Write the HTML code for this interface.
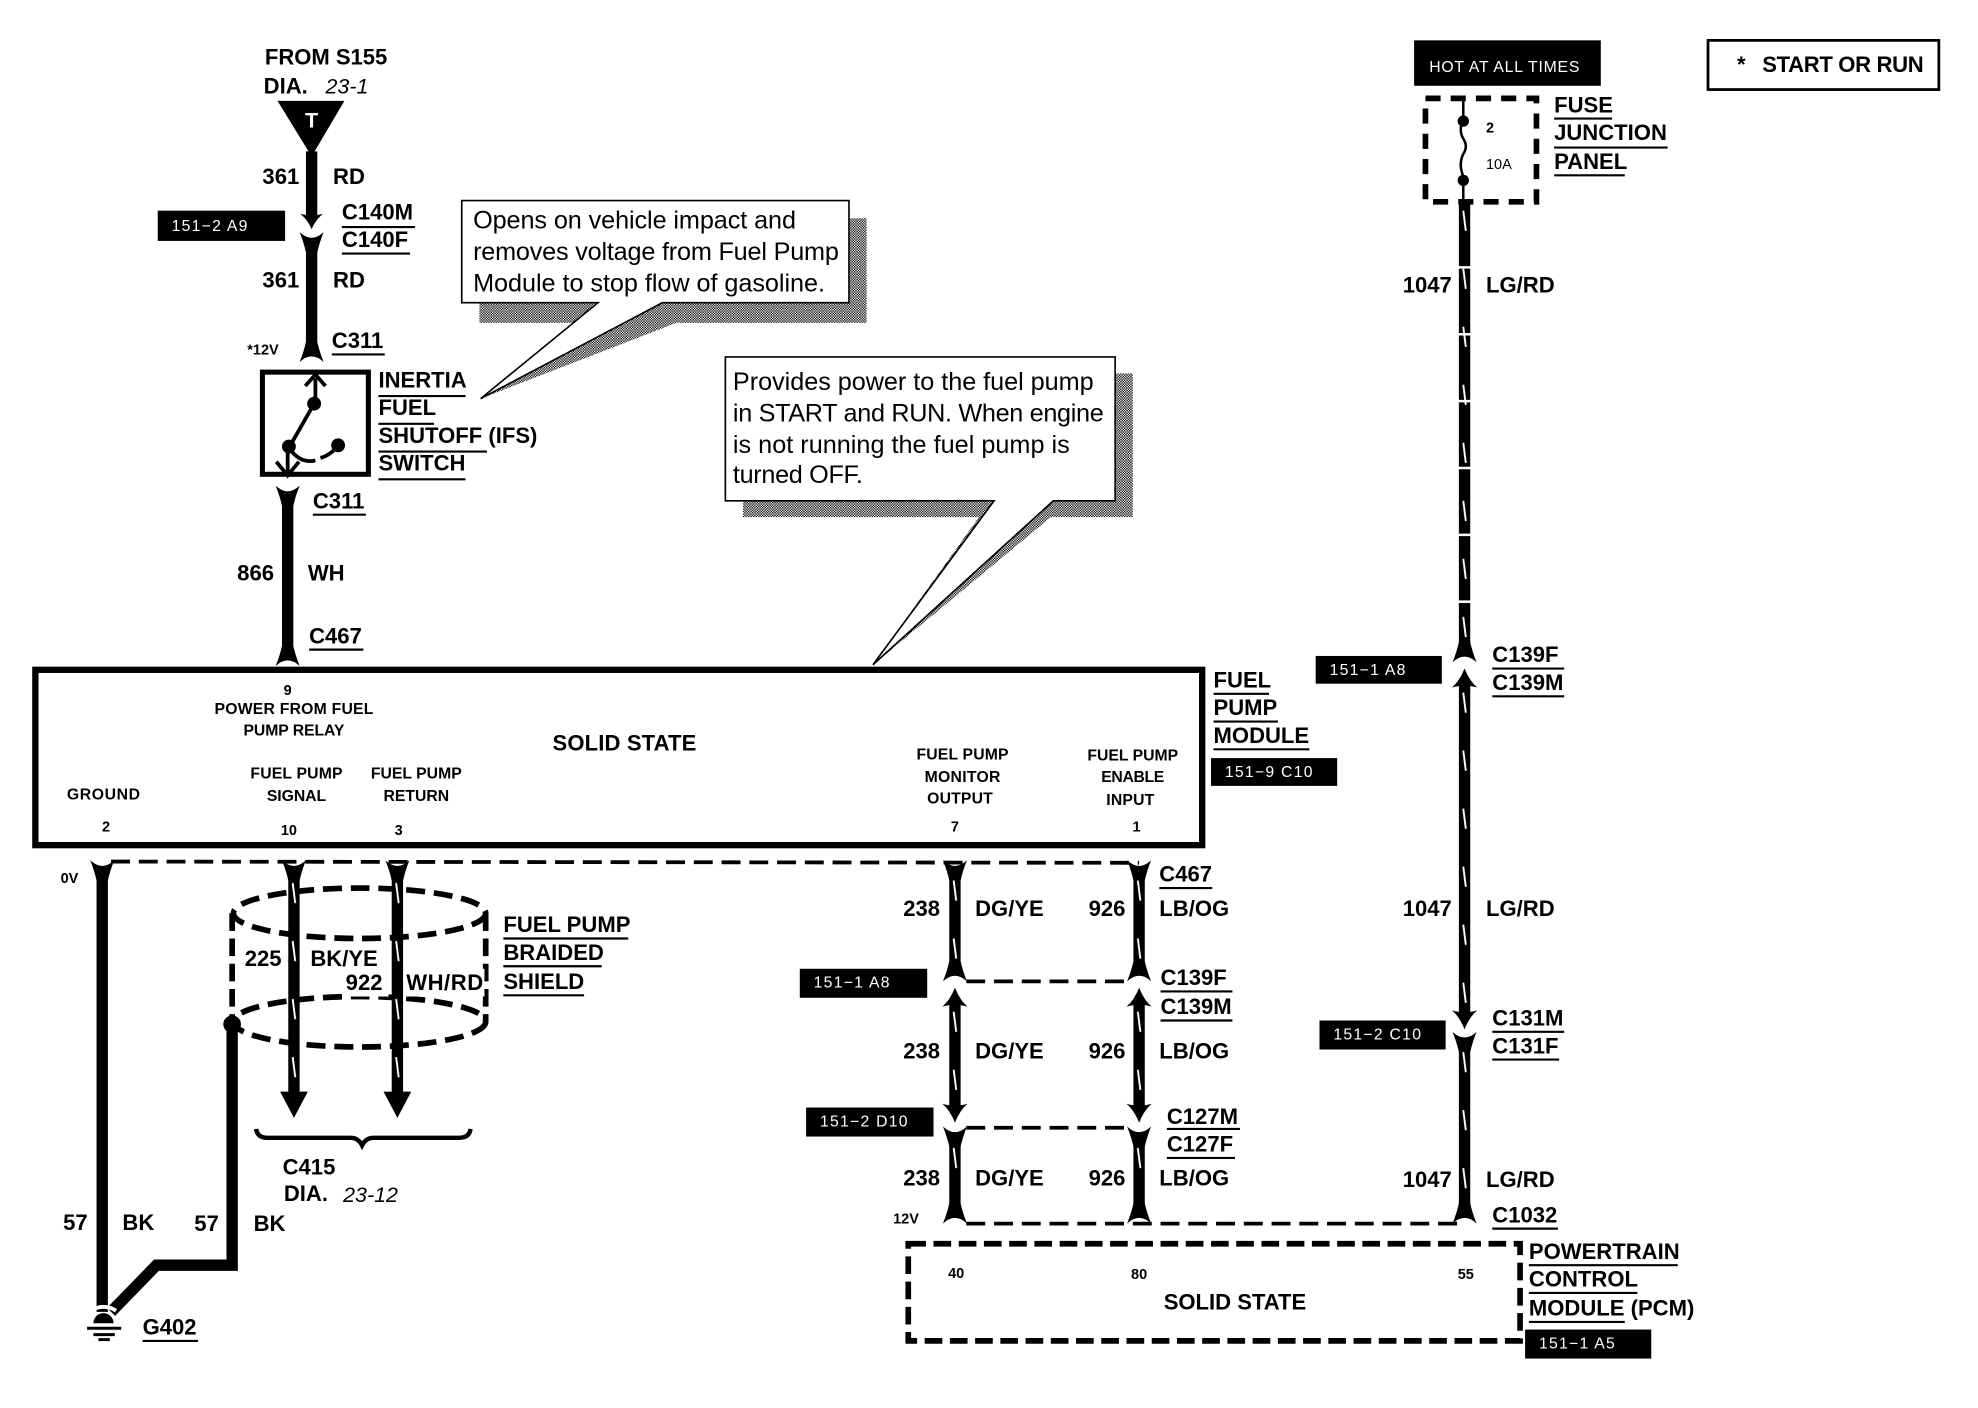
<!DOCTYPE html>
<html><head><meta charset="utf-8"><title>Fuel pump wiring diagram</title>
<style>
html,body{margin:0;padding:0;background:#fff}
svg{display:block}
text{font-family:"Liberation Sans",Arial,sans-serif;fill:#000}
.b{font-weight:bold;font-size:17.5px}
.m{font-weight:bold;font-size:12.5px}
.c{font-size:20px}
.s{font-weight:bold;font-size:11.5px}
.t{fill:#fff;font-size:12.5px;letter-spacing:1px}
.i{font-style:italic;font-size:17px}
.w{stroke:#000;stroke-width:9;fill:none}
.u{stroke:#000;stroke-width:1.7;fill:none}
.d{stroke:#000;stroke-width:3;fill:none;stroke-dasharray:15 7}
.sd{stroke:#000;stroke-width:4.5;fill:none;stroke-dasharray:14 6}
</style></head><body>
<svg width="1978" height="1408" viewBox="0 0 1568 1116.2" xmlns="http://www.w3.org/2000/svg">
<defs>
<pattern id="dith" width="2" height="2" patternUnits="userSpaceOnUse"><rect width="2" height="2" fill="#fff"/><rect width="1" height="1" fill="#000"/><rect x="1" y="1" width="1" height="1" fill="#000"/></pattern>
<pattern id="tick" width="6" height="46" patternUnits="userSpaceOnUse" x="-3"><line x1="2" y1="4" x2="4" y2="20" stroke="#fff" stroke-width="1.5"/></pattern>
<path id="cup" d="M-9.5-6 Q0 3 9.5-6 Q6 3 4.5 10 L-4.5 10 Q-6 3 -9.5-6Z" fill="#000"/>
<path id="head" d="M-10 3 Q-4-2 0-12 Q4-2 10 3 Q0 0-10 3Z" fill="#000"/>
<path id="tri" d="M-11 2 L11 2 L0 -14 Z" fill="#000"/>
</defs>
<rect width="1568" height="1116.2" fill="#fff"/>

<!-- top-left feed -->
<text class="b" x="210" y="51" textLength="97">FROM S155</text>
<text class="b" x="209" y="74">DIA.</text><text class="i" x="258" y="74">23-1</text>
<polygon points="220,80 273,80 247,124" fill="#000"/>
<text x="247" y="101" text-anchor="middle" font-weight="bold" font-size="17" style="fill:#fff">T</text>
<line class="w" x1="247" y1="120" x2="247" y2="172"/>
<use href="#head" transform="translate(247,172) scale(.9,-.8)"/>
<use href="#cup" transform="translate(247,190)"/>
<line class="w" x1="247" y1="196" x2="247" y2="280"/>
<use href="#cup" transform="translate(247,281) scale(1,-1)"/>
<text class="b" x="208" y="146">361</text><text class="b" x="264" y="146">RD</text>
<rect x="125" y="167" width="101" height="24" fill="#000"/>
<text class="t" x="136" y="183" style="fill:#fff">151−2 A9</text>
<text class="b" x="271" y="174">C140M</text><line class="u" x1="271" y1="180" x2="329" y2="180"/>
<text class="b" x="271" y="196">C140F</text><line class="u" x1="271" y1="201" x2="325" y2="201"/>
<text class="b" x="208" y="228">361</text><text class="b" x="264" y="228">RD</text>
<text class="s" x="196" y="281">*12V</text>
<text class="b" x="263" y="276">C311</text><line class="u" x1="263" y1="281" x2="305" y2="281"/>

<!-- callout 1 -->
<polygon points="380,173 687,173 687,256 536,256 381,316 469,256 380,256" fill="url(#dith)"/>
<polygon points="366,159 673,159 673,240 525,240 381,316 474,240 366,240" fill="#fff" stroke="#000" stroke-width="1.3"/>
<text class="c" x="375" y="181" textLength="256">Opens on vehicle impact and</text>
<text class="c" x="375" y="206" textLength="290">removes voltage from Fuel Pump</text>
<text class="c" x="375" y="231" textLength="279">Module to stop flow of gasoline.</text>

<!-- IFS switch -->
<rect x="208" y="295" width="84" height="81" fill="none" stroke="#000" stroke-width="4"/>
<path d="M250 320V300M242 306 250 297 258 306M249 320 229 355M228 355V376M219 366 228 377 237 366" stroke="#000" stroke-width="3" fill="none"/>
<path d="M229 355 Q238 368 250 365 M254 363 Q262 361 268 353" stroke="#000" stroke-width="3" fill="none"/>
<circle cx="249" cy="320" r="5.5"/><circle cx="229" cy="354" r="5.5"/><circle cx="268" cy="353" r="5.5"/>
<text class="b" x="300" y="307">INERTIA</text><line class="u" x1="300" y1="314" x2="369" y2="314"/>
<text class="b" x="300" y="329">FUEL</text><line class="u" x1="300" y1="336" x2="344" y2="336"/>
<text class="b" x="300" y="351">SHUTOFF (IFS)</text><line class="u" x1="300" y1="358" x2="386" y2="358"/>
<text class="b" x="300" y="373">SWITCH</text><line class="u" x1="300" y1="380" x2="369" y2="380"/>
<use href="#cup" transform="translate(228,391)"/>
<line class="w" x1="228" y1="395" x2="228" y2="522"/>
<use href="#cup" transform="translate(228,522) scale(1,-1)"/>
<text class="b" x="248" y="403">C311</text><line class="u" x1="248" y1="408" x2="290" y2="408"/>
<text class="b" x="188" y="460">866</text><text class="b" x="244" y="460">WH</text>
<text class="b" x="245" y="510">C467</text><line class="u" x1="245" y1="515" x2="288" y2="515"/>

<!-- callout 2 -->
<polygon points="589,296 898,296 898,410 833,410 692,527 776,410 589,410" fill="url(#dith)"/>
<polygon points="575,283 884,283 884,397 835,397 692,527 788,397 575,397" fill="#fff" stroke="#000" stroke-width="1.3"/>
<text class="c" x="581" y="309" textLength="286">Provides power to the fuel pump</text>
<text class="c" x="581" y="334" textLength="294">in START and RUN. When engine</text>
<text class="c" x="581" y="359" textLength="267">is not running the fuel pump is</text>
<text class="c" x="581" y="383" textLength="103">turned OFF.</text>

<!-- fuel pump module -->
<rect x="28" y="531" width="925" height="139" fill="none" stroke="#000" stroke-width="5"/>
<text class="s" x="228" y="551" text-anchor="middle">9</text>
<text class="m" x="233" y="566" text-anchor="middle" textLength="126">POWER FROM FUEL</text>
<text class="m" x="233" y="583" text-anchor="middle" textLength="80">PUMP RELAY</text>
<text class="b" x="495" y="595" text-anchor="middle" textLength="114">SOLID STATE</text>
<text class="m" x="82" y="634" text-anchor="middle" textLength="58">GROUND</text>
<text class="m" x="235" y="617" text-anchor="middle" textLength="73">FUEL PUMP</text>
<text class="m" x="235" y="635" text-anchor="middle" textLength="47">SIGNAL</text>
<text class="m" x="330" y="617" text-anchor="middle" textLength="72">FUEL PUMP</text>
<text class="m" x="330" y="635" text-anchor="middle" textLength="52">RETURN</text>
<text class="m" x="763" y="602" text-anchor="middle" textLength="73">FUEL PUMP</text>
<text class="m" x="763" y="620" text-anchor="middle" textLength="60">MONITOR</text>
<text class="m" x="761" y="637" text-anchor="middle" textLength="52">OUTPUT</text>
<text class="m" x="898" y="603" text-anchor="middle" textLength="72">FUEL PUMP</text>
<text class="m" x="898" y="620" text-anchor="middle" textLength="50">ENABLE</text>
<text class="m" x="896" y="638" text-anchor="middle" textLength="38">INPUT</text>
<text class="s" x="84" y="659" text-anchor="middle">2</text>
<text class="s" x="229" y="662" text-anchor="middle">10</text>
<text class="s" x="316" y="662" text-anchor="middle">3</text>
<text class="s" x="757" y="659" text-anchor="middle">7</text>
<text class="s" x="901" y="659" text-anchor="middle">1</text>
<text class="b" x="962" y="545">FUEL</text><line class="u" x1="962" y1="550" x2="1006" y2="550"/>
<text class="b" x="962" y="567">PUMP</text><line class="u" x1="962" y1="572" x2="1013" y2="572"/>
<text class="b" x="962" y="589">MODULE</text><line class="u" x1="962" y1="594" x2="1038" y2="594"/>
<rect x="960" y="601" width="100" height="22" fill="#000"/>
<text class="t" x="971" y="616" style="fill:#fff">151−9 C10</text>

<!-- lower-left: ground wires and shield -->
<line class="d" x1="88" y1="683" x2="903" y2="684"/>
<use href="#cup" transform="translate(81,688)"/><text class="s" x="48" y="700">0V</text>
<line class="w" x1="81" y1="692" x2="81" y2="1040"/>
<path d="M184 812V1003H124L88 1040" stroke="#000" stroke-width="9" fill="none"/>
<circle cx="184" cy="812" r="7"/>
<ellipse class="d" style="stroke-width:4.5" cx="285" cy="724" rx="100" ry="20"/>
<ellipse class="d" style="stroke-width:4.5" cx="285" cy="810" rx="100" ry="20"/>
<line class="sd" x1="184" y1="724" x2="184" y2="810"/>
<line class="sd" x1="385" y1="724" x2="385" y2="810"/>
<use href="#cup" transform="translate(233,688)"/><use href="#cup" transform="translate(315,688)"/>
<line class="w" x1="233" y1="692" x2="233" y2="870"/>
<rect transform="translate(233,696)" x="-3" width="6" height="170" fill="url(#tick)"/>
<use href="#tri" transform="translate(233,868) scale(1,-1.3)"/>
<line class="w" x1="315" y1="692" x2="315" y2="870"/>
<rect transform="translate(315,696)" x="-3" width="6" height="170" fill="url(#tick)"/>
<use href="#tri" transform="translate(315,868) scale(1,-1.3)"/>
<path d="M203 895Q204 902 212 902H278Q284 902 287 908Q290 902 296 902H364Q372 902 373 895" stroke="#000" stroke-width="3.5" fill="none"/>
<rect x="192" y="748" width="36" height="24" fill="#fff"/><rect x="240" y="748" width="64" height="24" fill="#fff"/><rect x="272" y="770" width="36" height="20" fill="#fff"/><rect x="322" y="768" width="62" height="22" fill="#fff"/>
<text class="b" x="194" y="766">225</text><text class="b" x="246" y="766">BK/YE</text>
<text class="b" x="274" y="785">922</text><text class="b" x="322" y="785" textLength="61">WH/RD</text>
<text class="b" x="399" y="739">FUEL PUMP</text><line class="u" x1="399" y1="744" x2="498" y2="744"/>
<text class="b" x="399" y="761">BRAIDED</text><line class="u" x1="399" y1="766" x2="477" y2="766"/>
<text class="b" x="399" y="784">SHIELD</text><line class="u" x1="399" y1="789" x2="463" y2="789"/>
<text class="b" x="224" y="931">C415</text>
<text class="b" x="225" y="952">DIA.</text><text class="i" x="272" y="953">23-12</text>
<text class="b" x="50" y="975">57</text><text class="b" x="97" y="975">BK</text>
<text class="b" x="154" y="976">57</text><text class="b" x="201" y="976">BK</text>
<path d="M72 1039 Q82 1033 92 1039" stroke="#fff" stroke-width="3" fill="none"/>
<path d="M74 1049A8 8 0 0 1 90 1049Z" fill="#000"/>
<path d="M69 1053H96M74 1058H91M78 1062H87" stroke="#000" stroke-width="2.4"/>
<text class="b" x="113" y="1058">G402</text><line class="u" x1="113" y1="1063" x2="157" y2="1063"/>

<!-- middle wires -->
<use href="#cup" transform="translate(757,688)"/><use href="#cup" transform="translate(903,688)"/>
<g>
<line class="w" x1="757" y1="692" x2="757" y2="770"/><line class="w" x1="903" y1="692" x2="903" y2="770"/>
<rect transform="translate(757,694)" x="-3" width="6" height="76" fill="url(#tick)"/><rect transform="translate(903,694)" x="-3" width="6" height="76" fill="url(#tick)"/>
<use href="#cup" transform="translate(757,772) scale(1,-1)"/><use href="#cup" transform="translate(903,772) scale(1,-1)"/>
<line class="d" x1="766" y1="778" x2="896" y2="778"/>
<line class="w" x1="757" y1="793" x2="757" y2="880"/><line class="w" x1="903" y1="793" x2="903" y2="880"/>
<rect transform="translate(757,798)" x="-3" width="6" height="80" fill="url(#tick)"/><rect transform="translate(903,798)" x="-3" width="6" height="80" fill="url(#tick)"/>
<use href="#head" transform="translate(757,795)"/><use href="#head" transform="translate(903,795)"/>
<use href="#head" transform="translate(757,878) scale(1,-1)"/><use href="#head" transform="translate(903,878) scale(1,-1)"/>
<use href="#cup" transform="translate(757,899)"/><use href="#cup" transform="translate(903,899)"/>
<line class="d" x1="766" y1="894" x2="896" y2="894"/>
<line class="w" x1="757" y1="904" x2="757" y2="964"/><line class="w" x1="903" y1="904" x2="903" y2="964"/>
<rect transform="translate(757,906)" x="-3" width="6" height="56" fill="url(#tick)"/><rect transform="translate(903,906)" x="-3" width="6" height="56" fill="url(#tick)"/>
<use href="#cup" transform="translate(757,964) scale(1,-1)"/><use href="#cup" transform="translate(903,964) scale(1,-1)"/>
</g>
<line class="d" x1="766" y1="970" x2="1155" y2="970"/>
<text class="b" x="716" y="726">238</text><text class="b" x="773" y="726">DG/YE</text><text class="b" x="863" y="726">926</text><text class="b" x="919" y="726">LB/OG</text>
<text class="b" x="716" y="839">238</text><text class="b" x="773" y="839">DG/YE</text><text class="b" x="863" y="839">926</text><text class="b" x="919" y="839">LB/OG</text>
<text class="b" x="716" y="940">238</text><text class="b" x="773" y="940">DG/YE</text><text class="b" x="863" y="940">926</text><text class="b" x="919" y="940">LB/OG</text>
<text class="b" x="919" y="699">C467</text><line class="u" x1="919" y1="704" x2="961" y2="704"/>
<text class="b" x="920" y="781">C139F</text><line class="u" x1="920" y1="786" x2="977" y2="786"/>
<text class="b" x="920" y="804">C139M</text><line class="u" x1="920" y1="809" x2="977" y2="809"/>
<text class="b" x="925" y="891">C127M</text><line class="u" x1="925" y1="895" x2="983" y2="895"/>
<text class="b" x="925" y="913">C127F</text><line class="u" x1="925" y1="918" x2="979" y2="918"/>
<rect x="634" y="768" width="101" height="23" fill="#000"/><text class="t" x="645" y="783" style="fill:#fff">151−1 A8</text>
<rect x="639" y="878" width="101" height="23" fill="#000"/><text class="t" x="650" y="893" style="fill:#fff">151−2 D10</text>
<text class="s" x="708" y="970">12V</text>

<!-- PCM -->
<rect class="sd" x="720" y="986" width="485" height="77"/>
<text class="s" x="758" y="1013" text-anchor="middle">40</text>
<text class="s" x="903" y="1014" text-anchor="middle">80</text>
<text class="s" x="1162" y="1014" text-anchor="middle">55</text>
<text class="b" x="979" y="1038" text-anchor="middle" textLength="113">SOLID STATE</text>
<text class="b" x="1212" y="998">POWERTRAIN</text><line class="u" x1="1212" y1="1003" x2="1330" y2="1003"/>
<text class="b" x="1212" y="1020">CONTROL</text><line class="u" x1="1212" y1="1025" x2="1298" y2="1025"/>
<text class="b" x="1212" y="1043">MODULE (PCM)</text><line class="u" x1="1212" y1="1048" x2="1288" y2="1048"/>
<rect x="1209" y="1054" width="100" height="23" fill="#000"/><text class="t" x="1220" y="1069" style="fill:#fff">151−1 A5</text>

<!-- right wire -->
<rect x="1121" y="32" width="148" height="36" fill="#000"/>
<text class="t" x="1133" y="57" textLength="120" style="fill:#fff">HOT AT ALL TIMES</text>
<rect x="1354" y="32" width="183" height="39" fill="#fff" stroke="#000" stroke-width="2.2"/>
<text class="b" x="1377" y="57">*</text><text class="b" x="1397" y="57" textLength="128">START OR RUN</text>
<rect x="1130" y="78" width="88" height="82" fill="none" stroke="#000" stroke-width="4.5" stroke-dasharray="12 8"/>
<path d="M1160 78V95Q1156 103 1160 110Q1164 116 1160 122Q1156 130 1160 140V160" stroke="#000" stroke-width="2" fill="none"/>
<circle cx="1160" cy="96" r="4.5"/><circle cx="1160" cy="143" r="4.5"/>
<text x="1178" y="105" font-size="11.5" font-weight="bold">2</text>
<text x="1178" y="134" font-size="11.5">10A</text>
<text class="b" x="1232" y="89">FUSE</text><line class="u" x1="1232" y1="94" x2="1278" y2="94"/>
<text class="b" x="1232" y="111">JUNCTION</text><line class="u" x1="1232" y1="117" x2="1322" y2="117"/>
<text class="b" x="1232" y="134">PANEL</text><line class="u" x1="1232" y1="139" x2="1288" y2="139"/>
<line class="w" x1="1161" y1="160" x2="1161" y2="516" stroke-dasharray="51 2"/>
<rect transform="translate(1161,163)" x="-3" width="6" height="353" fill="url(#tick)"/>
<use href="#cup" transform="translate(1161,519) scale(1,-1)"/>
<use href="#head" transform="translate(1161,542)"/>
<line class="w" x1="1161" y1="540" x2="1161" y2="806"/>
<rect transform="translate(1161,545)" x="-3" width="6" height="261" fill="url(#tick)"/>
<use href="#head" transform="translate(1161,804) scale(1,-1)"/>
<use href="#cup" transform="translate(1161,824)"/>
<line class="w" x1="1161" y1="828" x2="1161" y2="964"/>
<rect transform="translate(1161,830)" x="-3" width="6" height="134" fill="url(#tick)"/>
<use href="#cup" transform="translate(1161,964) scale(1,-1)"/>
<text class="b" x="1112" y="232">1047</text><text class="b" x="1178" y="232">LG/RD</text>
<text class="b" x="1112" y="726">1047</text><text class="b" x="1178" y="726">LG/RD</text>
<text class="b" x="1112" y="941">1047</text><text class="b" x="1178" y="941">LG/RD</text>
<rect x="1043" y="520" width="100" height="22" fill="#000"/><text class="t" x="1054" y="535" style="fill:#fff">151−1 A8</text>
<text class="b" x="1183" y="525">C139F</text><line class="u" x1="1183" y1="530" x2="1240" y2="530"/>
<text class="b" x="1183" y="547">C139M</text><line class="u" x1="1183" y1="552" x2="1240" y2="552"/>
<rect x="1046" y="809" width="100" height="23" fill="#000"/><text class="t" x="1057" y="824" style="fill:#fff">151−2 C10</text>
<text class="b" x="1183" y="813">C131M</text><line class="u" x1="1183" y1="818" x2="1240" y2="818"/>
<text class="b" x="1183" y="835">C131F</text><line class="u" x1="1183" y1="840" x2="1236" y2="840"/>
<text class="b" x="1183" y="969">C1032</text><line class="u" x1="1183" y1="974" x2="1235" y2="974"/>
</svg>
</body></html>
